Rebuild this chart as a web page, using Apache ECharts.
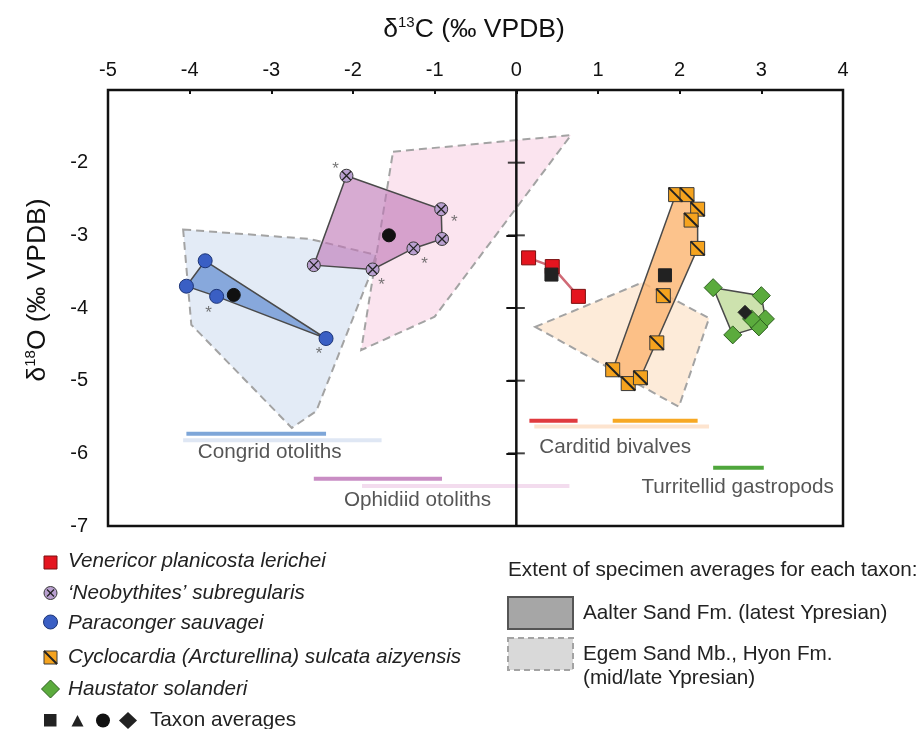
<!DOCTYPE html>
<html>
<head>
<meta charset="utf-8">
<script src="https://cdn.jsdelivr.net/npm/echarts@6/dist/echarts.min.js"></script>
<style>
  html, body { margin: 0; padding: 0; background: #fff; }
  #chart { width: 921px; height: 729px; }
</style>
</head>
<body>
<div id="chart"></div>
<script>
// Stable isotope cross-plot: δ13C (x) against δ18O (y), both in ‰ VPDB.

// ---- axis extents -------------------------------------------------------
const xTicks = [-5, -4, -3, -2, -1, 0, 1, 2, 3, 4];
const yTicks = [-7, -6, -5, -4, -3, -2, -1];

// ---- specimen averages, Aalter Sand Fm. ([δ13C, δ18O]) ------------------
const venericor = [[0.15, -3.31], [0.44, -3.43], [0.76, -3.84]];
const venericorAvg = [[0.43, -3.54]];

const neobythites = [[-2.08, -2.18], [-0.92, -2.64], [-0.91, -3.05], [-1.26, -3.18], [-1.76, -3.47], [-2.48, -3.41]];
const neobythitesAvg = [[-1.56, -3.00]];

const paraconger = [[-3.81, -3.35], [-4.04, -3.70], [-3.67, -3.84], [-2.33, -4.42]];
const paracongerAvg = [[-3.46, -3.82]];

const cyclocardia = [[1.95, -2.44], [2.09, -2.44], [2.22, -2.64], [2.14, -2.79], [2.22, -3.18],
                     [1.80, -3.83], [1.72, -4.48], [1.18, -4.85], [1.37, -5.04], [1.52, -4.96]];
const cyclocardiaAvg = [[1.82, -3.55]];

const haustator = [[2.41, -3.72], [3.00, -3.83], [3.05, -4.15], [2.97, -4.26], [2.88, -4.15], [2.65, -4.37]];
const haustatorAvg = [[2.80, -4.06]];

// specimens flagged with an asterisk (indices into the arrays above)
const neobythitesStarred = [0, 1, 3, 4];
const paracongerStarred = [2, 3];

// outline order of the extent polygons (indices into the arrays above)
const paracongerHull = [0, 3, 2, 1];
const neobythitesHull = [0, 1, 2, 3, 4, 5];
const cyclocardiaHull = [0, 1, 2, 4, 9, 8, 7];
const haustatorHull = [0, 1, 2, 3, 5];

// ---- extents of specimen averages, Egem Sand Mb. / Hyon Fm. -------------
const congridEgem = [[-4.08, -2.92], [-2.53, -3.05], [-1.72, -3.27], [-1.80, -3.57], [-2.45, -5.42], [-2.75, -5.65], [-3.98, -4.23]];
const ophidiidEgem = [[-1.51, -1.85], [0.67, -1.62], [-1.00, -4.12], [-1.90, -4.58]];
const carditidEgem = [[0.23, -4.26], [1.54, -3.65], [2.36, -4.14], [1.99, -5.36]];

// ---- δ13C ranges per group ----------------------------------------------
const congridRange = [-4.04, -2.33];
const congridEgemRange = [-4.08, -1.65];
const ophidiidRange = [-2.48, -0.91];
const ophidiidEgemRange = [-1.89, 0.65];
const venericorRange = [0.16, 0.75];
const cyclocardiaRange = [1.18, 2.22];
const carditidEgemRange = [0.22, 2.36];
const haustatorRange = [2.41, 3.03];

const groupNames = ['Congrid otoliths', 'Ophidiid otoliths', 'Carditid bivalves', 'Turritellid gastropods'];

// ---- placement (data coordinates) and styling ---------------------------
const rangeRowY = { congrid: -5.73, congridEgem: -5.82, ophidiid: -6.35, ophidiidEgem: -6.45,
                    carditid: -5.55, carditidEgem: -5.63, turritellid: -6.20 };
const groupLabelAt = [[-3.02, -5.99], [-1.21, -6.64], [1.21, -5.91], [2.71, -6.47]];
const neobythitesStarOffset = [[-11, -6], [13, 13], [11, 16], [9, 16]];
const paracongerStarOffset = [[-8, 17], [-7, 16]];

const FONT = '"Liberation Sans", Arial, sans-serif';
const BLACK = '#111';
const TEXT_SIZE = 20.7;

function pick(arr, idx) { return idx.map(i => arr[i]); }

function polygon(name, verts, style, z) {
  return {
    type: 'custom', name, z, silent: true,
    data: [verts[0]],
    renderItem(params, api) {
      return { type: 'polygon', shape: { points: verts.map(v => api.coord(v)) }, style };
    }
  };
}
function egem(name, verts, fill) {
  return polygon(name, verts, { fill, stroke: '#a3a3a3', lineWidth: 2, lineDash: [8, 5] }, 1);
}
function aalter(name, verts, fill) {
  return polygon(name, verts, { fill, stroke: '#4a4a4a', lineWidth: 1.5 }, 3);
}
function range(name, xr, y, color) {
  return {
    type: 'line', name, z: 2, silent: true, symbol: 'none',
    data: [[xr[0], y], [xr[1], y]],
    lineStyle: { color, width: 4, cap: 'butt' }
  };
}
function points(name, data, symbol, size, color, border, z) {
  return {
    type: 'scatter', name, z: z || 4, silent: true, symbol, symbolSize: size, data,
    itemStyle: { color, borderColor: border, borderWidth: 1, opacity: 1 }
  };
}
function stroked(name, data, path, size, width) {
  return {
    type: 'scatter', name, z: 5, silent: true, symbol: path, symbolSize: size, data,
    itemStyle: { color: 'rgba(0,0,0,0)', borderColor: '#222', borderWidth: width, opacity: 1 }
  };
}
function stars(name, data, offsets) {
  return {
    type: 'scatter', name, z: 6, silent: true, symbolSize: 0,
    data: data.map((d, i) => ({ value: d, label: { offset: offsets[i] } })),
    label: { show: true, position: 'inside', formatter: '*', fontFamily: FONT, fontSize: 17, color: '#555' }
  };
}

const series = [
  // Egem extents (dashed)
  egem('congridEgem', congridEgem, '#e3ebf6'),
  egem('ophidiidEgem', ophidiidEgem, '#fbe4ef'),
  egem('carditidEgem', carditidEgem, '#fdebd9'),

  // δ13C ranges
  range('congridEgemRange', congridEgemRange, rangeRowY.congridEgem, '#dfe7f4'),
  range('congridRange', congridRange, rangeRowY.congrid, '#7ea6d8'),
  range('ophidiidEgemRange', ophidiidEgemRange, rangeRowY.ophidiidEgem, '#f3dcee'),
  range('ophidiidRange', ophidiidRange, rangeRowY.ophidiid, '#c98dc4'),
  range('carditidEgemRange', carditidEgemRange, rangeRowY.carditidEgem, '#fde4cf'),
  range('venericorRange', venericorRange, rangeRowY.carditid, '#e03a3e'),
  range('cyclocardiaRange', cyclocardiaRange, rangeRowY.carditid, '#f7a823'),
  range('haustatorRange', haustatorRange, rangeRowY.turritellid, '#4fa63c'),

  // zero line with crossing ticks
  {
    type: 'line', name: 'zeroLine', z: 2, silent: true, symbol: 'none',
    data: [[0, yTicks[0]], [0, yTicks[yTicks.length - 1]]],
    lineStyle: { color: BLACK, width: 2.5 }
  },
  {
    type: 'scatter', name: 'zeroTicks', z: 2, silent: true, symbol: 'rect', symbolSize: [17, 2],
    data: yTicks.slice(1, -1).map(v => [0, v]),
    itemStyle: { color: BLACK }
  },

  // Aalter extents (solid)
  aalter('paracongerHull', pick(paraconger, paracongerHull), 'rgba(95,140,210,0.7)'),
  aalter('neobythitesHull', pick(neobythites, neobythitesHull), 'rgba(190,120,182,0.62)'),
  aalter('cyclocardiaHull', pick(cyclocardia, cyclocardiaHull), 'rgba(252,184,120,0.85)'),
  aalter('haustatorHull', pick(haustator, haustatorHull), '#cde2ae'),
  {
    type: 'line', name: 'venericorLink', z: 3, silent: true, symbol: 'none',
    data: venericor, lineStyle: { color: '#d06a76', width: 2.5 }
  },

  // specimens
  points('Paraconger sauvagei', paraconger, 'circle', 14, '#3a5fc4', '#1d3576'),
  points("'Neobythites' subregularis", neobythites, 'circle', 13, '#b9a0d0', '#3a3a3a'),
  stroked('neobythitesCross', neobythites, 'path://M0,0L10,10M10,0L0,10', 9, 1.3),
  points('Venericor planicosta lerichei', venericor, 'rect', 14, '#e4151f', '#7a1010'),
  points('Cyclocardia (Arcturellina) sulcata aizyensis', cyclocardia, 'rect', 14, '#f5a31e', '#3a3a3a'),
  stroked('cyclocardiaSlash', cyclocardia, 'path://M0,0L10,10', 14, 2),
  points('Haustator solanderi', haustator, 'diamond', 18, '#5bab3d', '#2d5f1f'),

  // taxon averages
  points('paracongerAvg', paracongerAvg, 'circle', 13, BLACK, BLACK, 6),
  points('neobythitesAvg', neobythitesAvg, 'circle', 13, BLACK, BLACK, 6),
  points('venericorAvg', venericorAvg, 'rect', 13, '#222', '#222', 6),
  points('cyclocardiaAvg', cyclocardiaAvg, 'rect', 13, '#222', '#222', 6),
  points('haustatorAvg', haustatorAvg, 'diamond', 14, '#222', '#222', 6),

  // asterisks
  stars('neobythitesStars', pick(neobythites, neobythitesStarred), neobythitesStarOffset),
  stars('paracongerStars', pick(paraconger, paracongerStarred), paracongerStarOffset),

  // group labels
  {
    type: 'scatter', name: 'groupLabels', z: 6, silent: true, symbolSize: 0,
    data: groupLabelAt.map((p, i) => ({ value: p, name: groupNames[i] })),
    label: { show: true, position: 'inside', formatter: p => p.name,
             fontFamily: FONT, fontSize: TEXT_SIZE, color: '#2b2b2b' }
  }
];

// ---- legend (drawn as graphic elements) ---------------------------------
const legendText = (x, y, text, italic) => ({
  type: 'text', x, y,
  style: { text, fill: '#222', font: (italic ? 'italic ' : '') + TEXT_SIZE + 'px ' + FONT, verticalAlign: 'middle' }
});
const markStyle = (fill, stroke) => ({ fill, stroke, lineWidth: 1 });
const titleRich = {
  a: { fontFamily: FONT, fontSize: 26.5, fill: BLACK, lineHeight: 30 },
  s: { fontFamily: FONT, fontSize: 15, fill: BLACK, lineHeight: 16, verticalAlign: 'top' }
};

const graphic = [
  // axis titles
  {
    type: 'text', x: 474, y: 30,
    style: { text: '{a|δ}{s|13}{a|C (‰ VPDB)}', align: 'center', verticalAlign: 'middle', rich: titleRich }
  },
  {
    type: 'text', x: 38, y: 290, rotation: Math.PI / 2,
    style: { text: '{a|δ}{s|18}{a|O (‰ VPDB)}', align: 'center', verticalAlign: 'middle', rich: titleRich }
  },

  // taxon keys
  { type: 'rect', shape: { x: 44, y: 556, width: 13, height: 13 }, style: markStyle('#e4151f', '#7a1010') },
  legendText(68, 561, 'Venericor planicosta lerichei', true),

  { type: 'circle', shape: { cx: 50.5, cy: 593, r: 6.5 }, style: markStyle('#b9a0d0', '#3a3a3a') },
  { type: 'polyline', shape: { points: [[47, 589.5], [54, 596.5]] }, style: { stroke: '#222', lineWidth: 1.2 } },
  { type: 'polyline', shape: { points: [[54, 589.5], [47, 596.5]] }, style: { stroke: '#222', lineWidth: 1.2 } },
  legendText(68, 593, '‘Neobythites’ subregularis', true),

  { type: 'circle', shape: { cx: 50.5, cy: 622, r: 7 }, style: markStyle('#3a5fc4', '#1d3576') },
  legendText(68, 623, 'Paraconger sauvagei', true),

  { type: 'rect', shape: { x: 44, y: 651, width: 13, height: 13 }, style: markStyle('#f5a31e', '#3a3a3a') },
  { type: 'polyline', shape: { points: [[44, 651], [57, 664]] }, style: { stroke: '#222', lineWidth: 2 } },
  legendText(68, 657, 'Cyclocardia (Arcturellina) sulcata aizyensis', true),

  { type: 'polygon', shape: { points: [[50.5, 680], [59.5, 689], [50.5, 698], [41.5, 689]] }, style: markStyle('#5bab3d', '#2d5f1f') },
  legendText(68, 689, 'Haustator solanderi', true),

  { type: 'rect', shape: { x: 44, y: 714, width: 12.5, height: 12.5 }, style: { fill: '#222' } },
  { type: 'polygon', shape: { points: [[77.5, 715], [83.5, 726.5], [71.5, 726.5]] }, style: { fill: '#222' } },
  { type: 'circle', shape: { cx: 103, cy: 720.5, r: 7 }, style: { fill: '#111' } },
  { type: 'polygon', shape: { points: [[128, 712], [137, 720.5], [128, 729], [119, 720.5]] }, style: { fill: '#222' } },
  legendText(150, 720, 'Taxon averages', false),

  // formation keys
  legendText(508, 570, 'Extent of specimen averages for each taxon:', false),
  { type: 'rect', shape: { x: 508, y: 597, width: 65, height: 32 }, style: { fill: '#a6a6a6', stroke: '#555', lineWidth: 2 } },
  legendText(583, 613, 'Aalter Sand Fm. (latest Ypresian)', false),
  { type: 'rect', shape: { x: 508, y: 638, width: 65, height: 32 }, style: { fill: '#d9d9d9', stroke: '#a3a3a3', lineWidth: 2, lineDash: [6, 4] } },
  legendText(583, 654, 'Egem Sand Mb., Hyon Fm.', false),
  legendText(583, 678, '(mid/late Ypresian)', false)
];

const option = {
  backgroundColor: '#fff',
  animation: false,
  grid: {
    left: 108, top: 90, width: 735, height: 436,
    show: true, borderColor: BLACK, borderWidth: 2.5, backgroundColor: 'transparent',
    containLabel: false, outerBoundsMode: 'none'
  },
  xAxis: {
    type: 'value', position: 'top',
    min: xTicks[0], max: xTicks[xTicks.length - 1], interval: 1,
    axisLine: { show: false },
    axisTick: { show: true, inside: true, length: 4, lineStyle: { color: BLACK, width: 2 } },
    axisLabel: { margin: 10, fontFamily: FONT, fontSize: 20, color: BLACK },
    splitLine: { show: false }
  },
  yAxis: {
    type: 'value',
    min: yTicks[0], max: yTicks[yTicks.length - 1], interval: 1,
    axisLine: { show: false },
    axisTick: { show: true, inside: false, length: 10, lineStyle: { color: BLACK, width: 2 } },
    axisLabel: { margin: 20, fontFamily: FONT, fontSize: 20, color: BLACK,
                 formatter: v => (v === yTicks[yTicks.length - 1] ? '' : String(v)) },
    splitLine: { show: false }
  },
  series,
  graphic
};

const chart = echarts.init(document.getElementById('chart'), null, { renderer: 'canvas' });
chart.setOption(option);
</script>
</body>
</html>
